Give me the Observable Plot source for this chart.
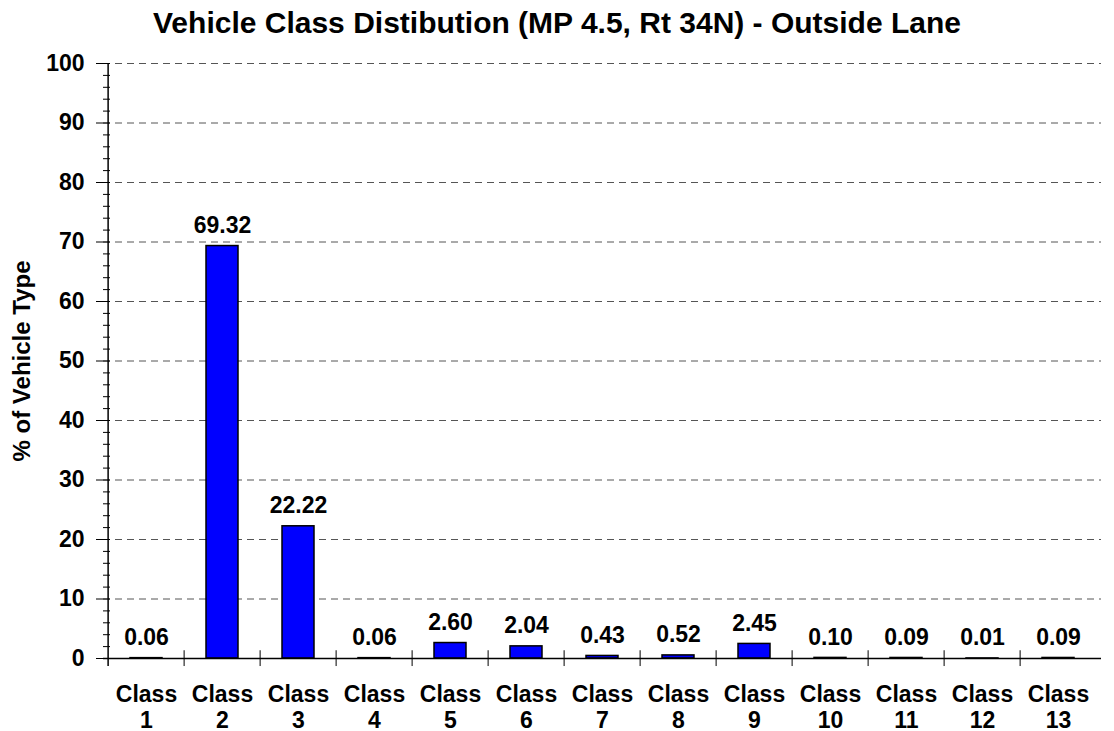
<!DOCTYPE html>
<html>
<head>
<meta charset="utf-8">
<script src="https://cdn.jsdelivr.net/npm/d3@7"></script>
<script src="https://cdn.jsdelivr.net/npm/@observablehq/plot@0.6"></script>
<style>
  body { margin: 0; background: #fff; font-family: "Liberation Sans", Arial, sans-serif; overflow: hidden; }
  #title { height: 40px; width: 1114px; box-sizing: border-box; padding-top: 3px; text-align: center;
           font-weight: bold; font-size: 30px; line-height: 40px; color: #000; white-space: nowrap; overflow: hidden; }
  #chart svg { display: block; }
</style>
</head>
<body>
<div id="title">Vehicle Class Distibution (MP 4.5, Rt 34N) - Outside Lane</div>
<div id="chart"></div>
<script>
const classes = ["1","2","3","4","5","6","7","8","9","10","11","12","13"];
const percents = [0.06, 69.32, 22.22, 0.06, 2.60, 2.04, 0.43, 0.52, 2.45, 0.10, 0.09, 0.01, 0.09];
const yTicks = [0,10,20,30,40,50,60,70,80,90,100];
const yMinorTicks = d3.range(0, 101, 2);
const yLabel = "% of Vehicle Type";

const data = classes.map((c, i) => ({cls: c, value: percents[i]}));

const W = 1114, H = 691, ML = 103, MR = 13, MT = 23, MB = 73;
const halfStep = (W - ML - MR) / classes.length / 2;
const font = {fontFamily: "Liberation Sans, Arial, sans-serif", fontWeight: "bold", fontSize: 23, fill: "#000"};

const chart = Plot.plot({
  width: W, height: H,
  marginLeft: ML, marginRight: MR, marginTop: MT, marginBottom: MB,
  style: {fontFamily: "Liberation Sans, Arial, sans-serif", background: "#fff", overflow: "visible"},
  x: {domain: classes, paddingInner: 0.58, paddingOuter: 0.29, label: null},
  y: {domain: [0, 100], label: null},
  marks: [
    Plot.gridY(yTicks.filter(d => d > 0), {stroke: "#555", strokeOpacity: 1, strokeDasharray: "7,5", strokeWidth: 1}),
    Plot.barY(data, {x: "cls", y: "value", fill: "#0000FF", stroke: "#000", strokeWidth: 1.5}),
    Plot.text(data, {x: "cls", y: "value", text: d => d.value.toFixed(2), lineAnchor: "bottom", dy: -13, ...font}),
    Plot.ruleY([0], {stroke: "#000", strokeWidth: 1.5}),
    Plot.ruleX(classes.slice(1), {x: d => d, y1: 1.3, y2: -1.35, dx: -halfStep, stroke: "#000", strokeWidth: 1}),
    Plot.axisY({ticks: yTicks, tickSize: 7, tickPadding: 12, stroke: "#000", ...font, tickFormat: d => String(d)}),
    Plot.axisY({ticks: yMinorTicks, tickSize: -7, tickFormat: () => "", stroke: "#000"}),
    Plot.ruleX([classes[0]], {y1: -1.35, y2: 100, dx: -halfStep, stroke: "#000", strokeWidth: 1.5}),
    Plot.axisX({tickSize: 0, tickPadding: 25, lineHeight: 1.13, ...font, tickFormat: d => "Class\n" + d}),
    Plot.text([yLabel], {frameAnchor: "left", dx: -81, rotate: -90, textAnchor: "middle", ...font, fontSize: 24, text: d => d})
  ]
});
document.getElementById("chart").appendChild(chart);
</script>
</body>
</html>
